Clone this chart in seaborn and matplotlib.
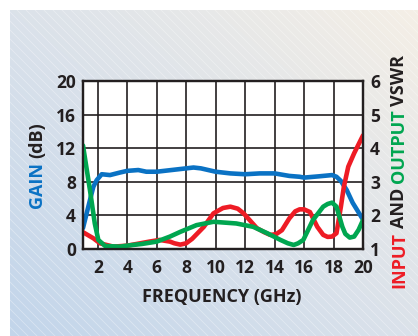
import numpy as np
import matplotlib
matplotlib.use("Agg")
import matplotlib.pyplot as plt
import seaborn as sns

# ---- data -------------------------------------------------------------
gain_freq = [1.0, 1.47, 1.7, 1.93, 2.27, 2.83, 3.5, 4.0, 4.75, 5.3, 6.0, 7.0,
             8.0, 8.5, 9.0, 10.0, 11.0, 12.0, 13.0, 14.0, 15.0, 15.7, 16.0,
             17.0, 17.9, 18.2, 18.5, 18.9, 19.3, 20.0]
gain_db = [2.5, 5.8, 7.4, 8.2, 8.9, 8.8, 9.1, 9.3, 9.4, 9.2, 9.2, 9.4,
           9.6, 9.7, 9.6, 9.2, 9.0, 8.9, 9.0, 9.0, 8.7, 8.6, 8.5,
           8.65, 8.8, 8.6, 8.1, 7.0, 5.5, 3.5]

in_freq = [1.0, 1.7, 2.15, 3.06, 4.0, 4.64, 5.5, 6.2, 6.9, 7.2, 7.6, 8.0, 8.4,
           9.2, 9.85, 10.5, 11.0, 11.5, 11.9, 12.8, 13.3, 13.7, 14.1, 14.5,
           15.0, 15.4, 15.7, 16.0, 16.4, 16.9, 17.3, 17.6, 17.9, 18.2, 18.5,
           18.7, 19.0, 19.4, 20.0]
in_vswr = [1.50, 1.32, 1.17, 1.07, 1.10, 1.15, 1.22, 1.27, 1.22, 1.17, 1.13, 1.17,
           1.30, 1.66, 2.06, 2.22, 2.26, 2.2, 2.06, 1.62, 1.5, 1.42, 1.44, 1.56,
           1.91, 2.12, 2.18, 2.18, 2.1, 1.66, 1.42, 1.36, 1.37, 1.47, 2.26,
           2.85, 3.45, 3.85, 4.38]

out_freq = [1.0, 1.47, 1.8, 2.04, 2.5, 3.5, 4.0, 5.0, 6.0, 6.9, 7.6, 8.7,
            9.85, 11.4, 12.55, 13.5, 14.4, 14.9, 15.3, 15.6, 15.95, 16.6, 17.3,
            17.6, 17.9, 18.2, 18.6, 18.8, 19.1, 19.4, 19.7, 20.0]
out_vswr = [4.08, 2.76, 1.76, 1.27, 1.09, 1.07, 1.10, 1.15, 1.22, 1.37, 1.51, 1.71,
            1.81, 1.76, 1.66, 1.47, 1.27, 1.17, 1.12, 1.17, 1.27, 1.86, 2.26,
            2.34, 2.38, 2.26, 1.66, 1.45, 1.34, 1.37, 1.57, 1.86]

freq_ticks = list(range(2, 21, 2))
gain_ticks = list(range(0, 21, 4))
vswr_ticks = [1, 2, 3, 4, 5, 6]

# ---- style ------------------------------------------------------------
sns.set_style("white")
FONT = ["Open Sans", "DejaVu Sans"]
plt.rcParams["font.family"] = FONT
plt.rcParams["font.weight"] = "bold"

BLUE = "#0a72c4"
RED = "#ee1c25"
GREEN = "#00a650"
INK = "#231f20"
LW = 3.3

W, H = 418, 336
fig = plt.figure(figsize=(W / 100, H / 100), dpi=100)
fig.patch.set_facecolor("white")

# ---- gradient panel with faint diagonal hatching ---------------------
pw, ph = 408, 326
bg = fig.add_axes([10 / W, 0, pw / W, ph / H], zorder=0)
xx, yy = np.meshgrid(np.linspace(0, 1, pw), np.linspace(0, 1, ph))
t = (xx + (1 - yy)) / 2.0
c_lo = np.array([0xc2, 0xd5, 0xea]) / 255
c_mid = np.array([0xdb, 0xe2, 0xea]) / 255
c_hi = np.array([0xf5, 0xef, 0xe6]) / 255
tt = t[..., None]
img = np.where(tt < 0.5,
               c_lo + (c_mid - c_lo) * (tt / 0.5),
               c_mid + (c_hi - c_mid) * ((tt - 0.5) / 0.5))
bg.imshow(img, extent=(0, pw, ph, 0), aspect="auto", interpolation="bilinear")
for c in range(-ph, pw, 9):
    bg.plot([c, c + ph], [0, ph], color="white", lw=0.6, alpha=0.35)
bg.set_xlim(0, pw)
bg.set_ylim(ph, 0)
bg.axis("off")

# ---- main axes -------------------------------------------------------
ax = fig.add_axes([83 / W, (H - 249) / H, 280 / W, 168 / H], zorder=2)
ax.set_facecolor("white")
line_kw = dict(lw=LW, estimator=None, sort=False, solid_capstyle="round",
               solid_joinstyle="round")
sns.lineplot(x=gain_freq, y=gain_db, ax=ax, color=BLUE, **line_kw)
ax.set_xlim(1, 20)
ax.set_ylim(0, 20)
ax.set_xticks(freq_ticks)
ax.set_yticks(gain_ticks)
ax.grid(True, color=INK, lw=1.2)
ax.set_axisbelow(True)
ax.tick_params(axis="both", length=0, labelsize=12.5, labelcolor=INK)
ax.tick_params(axis="x", pad=7)
ax.tick_params(axis="y", pad=5)
for lab in ax.get_xticklabels() + ax.get_yticklabels():
    lab.set_fontweight("bold")
ax.set_xlabel("")
ax.set_ylabel("")

ax2 = ax.twinx()
sns.lineplot(x=in_freq, y=in_vswr, ax=ax2, color=RED, **line_kw)
sns.lineplot(x=out_freq, y=out_vswr, ax=ax2, color=GREEN, **line_kw)
ax2.set_ylim(1, 6)
ax2.set_yticks(vswr_ticks)
ax2.grid(False)
ax2.tick_params(axis="y", length=0, labelsize=12.5, labelcolor=INK, pad=5)
for lab in ax2.get_yticklabels():
    lab.set_fontweight("bold")
ax2.set_ylabel("")

for a in (ax, ax2):
    for sp in a.spines.values():
        sp.set_color(INK)
        sp.set_linewidth(1.6)
        sp.set_visible(True)

# ---- axis titles -----------------------------------------------------
fig.text(222 / W, 1 - 297 / H, "FREQUENCY (GHz)", ha="center", va="center",
         fontsize=13, fontweight="bold", color=INK)

renderer = fig.canvas.get_renderer()


def vertical_label(x_px, yc_px, parts, size=13, gap=4.0):
    texts = []
    for s, col in parts:
        tx = fig.text(0, 0, s, rotation=90, color=col, fontsize=size,
                      fontweight="bold", ha="center", va="bottom")
        texts.append(tx)
    heights = [tx.get_window_extent(renderer).height for tx in texts]
    total = sum(heights) + gap * (len(texts) - 1)
    y = (H - yc_px) - total / 2.0
    for tx, h in zip(texts, heights):
        tx.set_position((x_px / W, y / H))
        y += h + gap


vertical_label(37, 165, [("GAIN", BLUE), ("(dB)", INK)])
vertical_label(399, 171, [("INPUT", RED), ("AND", INK),
                          ("OUTPUT", GREEN), ("VSWR", INK)])

fig.savefig("out.png", dpi=100)
